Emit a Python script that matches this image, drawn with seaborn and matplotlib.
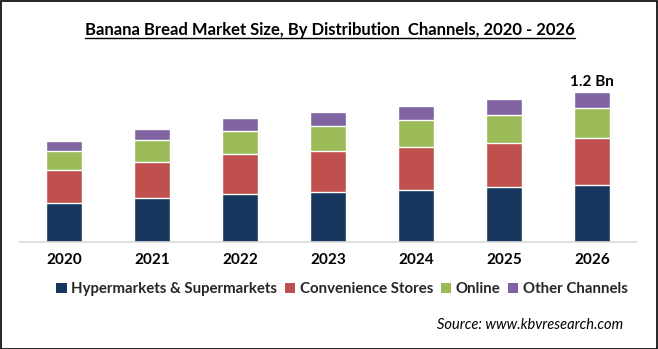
import numpy as np
import pandas as pd
import matplotlib
matplotlib.use("Agg")
import matplotlib.pyplot as plt
import seaborn as sns
from matplotlib.patches import Patch
from matplotlib.lines import Line2D

years = ["2020", "2021", "2022", "2023", "2024", "2025", "2026"]
hyper = [0.312, 0.352, 0.384, 0.400, 0.416, 0.440, 0.456]
conv = [0.264, 0.288, 0.320, 0.328, 0.344, 0.352, 0.376]
online = [0.152, 0.176, 0.184, 0.200, 0.216, 0.224, 0.240]
other = [0.080, 0.088, 0.104, 0.112, 0.112, 0.128, 0.128]
series_names = ["Hypermarkets & Supermarkets", "Convenience Stores", "Online", "Other Channels"]
colors = ["#17375E", "#C0504D", "#9BBB59", "#8064A2"]
top_label = "1.2 Bn"

sns.set_theme(style="white")
plt.rcParams["font.family"] = ["Lato", "DejaVu Sans"]

fig = plt.figure(figsize=(6.58, 3.49), dpi=100)
W, H = 658, 349
ax = fig.add_axes([20 / W, (H - 242) / H, (636 - 20) / W, (242 - 60) / H])

vals = [hyper, conv, online, other]
cum = np.cumsum(np.array(vals), axis=0)
for i in range(3, -1, -1):
    df = pd.DataFrame({"year": years, "value": cum[i]})
    sns.barplot(data=df, x="year", y="value", color=colors[i], width=0.4,
                saturation=1, ax=ax, order=years)

ax.set_xlim(-0.5, 6.5)
ax.set_ylim(0, 1.456)
ax.set_xlabel("")
ax.set_ylabel("")
ax.set_yticks([])
for s in ["top", "right", "left"]:
    ax.spines[s].set_visible(False)
ax.spines["bottom"].set_color("#D9D9D9")
ax.spines["bottom"].set_linewidth(1.2)
ax.tick_params(axis="x", length=0, pad=8)
for lab in ax.get_xticklabels():
    lab.set_fontweight("bold")
    lab.set_fontsize(11)
    lab.set_color("black")

ax.annotate(top_label, xy=(6, cum[3][6]), xytext=(0, 2), textcoords="offset points",
            ha="center", va="bottom", fontsize=11, fontweight="bold", color="black")

title = fig.text(330 / W, 1 - 30 / H, "Banana Bread Market Size, By Distribution  Channels, 2020 - 2026",
                 ha="center", va="center", fontsize=12, fontweight="bold", color="black")

handles = [Patch(facecolor=c, edgecolor="none") for c in colors]
leg = fig.legend(handles, series_names, loc="center", bbox_to_anchor=(342 / W, 1 - 289 / H),
                 ncol=4, frameon=False, handlelength=0.7, handleheight=0.7, handletextpad=0.3,
                 columnspacing=0.5, prop={"weight": "bold", "size": 10.8})

fig.text(623 / W, 1 - 325 / H, "Source: www.kbvresearch.com", ha="right", va="center",
         fontsize=10.5, style="italic", color="black")

# figure border
fig.patches.append(matplotlib.patches.Rectangle((0.5 / W, 0.5 / H), 1 - 1.5 / W, 1 - 1.5 / H,
                   transform=fig.transFigure, fill=False, edgecolor="black", linewidth=1.2))

# underline title
fig.canvas.draw()
bb = title.get_window_extent(renderer=fig.canvas.get_renderer())
inv = fig.transFigure.inverted()
(x0, y0), (x1, y1) = inv.transform([(bb.x0, bb.y0), (bb.x1, bb.y1)])
fig.add_artist(Line2D([x0, x1], [y0 + 0.5 / H, y0 + 0.5 / H], transform=fig.transFigure,
                      color="black", linewidth=1.0))

fig.savefig("out.png", dpi=100)
